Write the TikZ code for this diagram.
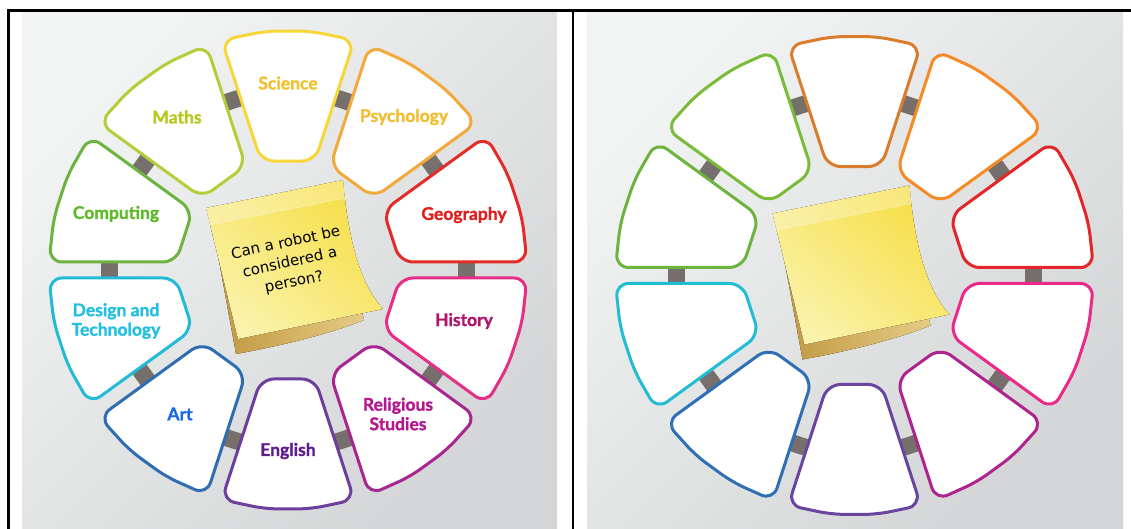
\documentclass[tikz,border=0pt]{standalone}
\usepackage{fontspec}
\setmainfont{Lato}[BoldFeatures={FakeBold=1.2}]
\newfontfamily\notefont{DejaVu Sans}
\usetikzlibrary{calc}
% outline colours, left panel (k = 0 top, clockwise)
\definecolor{La}{HTML}{F5D73A}\definecolor{Lb}{HTML}{F3A93C}\definecolor{Lc}{HTML}{E32B27}
\definecolor{Ld}{HTML}{E52E86}\definecolor{Le}{HTML}{A82690}\definecolor{Lf}{HTML}{6B3F9B}
\definecolor{Lg}{HTML}{2F6DB3}\definecolor{Lh}{HTML}{22BBD5}\definecolor{Li}{HTML}{6BB440}
\definecolor{Lj}{HTML}{B3CE3B}
% outline colours, right panel
\definecolor{Ra}{HTML}{D97C2C}\definecolor{Rb}{HTML}{F58B26}\definecolor{Rc}{HTML}{E4252A}
\definecolor{Rd}{HTML}{EA2A8B}\definecolor{Re}{HTML}{AE238E}\definecolor{Rf}{HTML}{6A45A0}
\definecolor{Rg}{HTML}{2F6FB5}\definecolor{Rh}{HTML}{23BCD5}\definecolor{Ri}{HTML}{6DB43F}
\definecolor{Rj}{HTML}{79BC3A}
% text colours
\definecolor{Tsci}{HTML}{F2C02C}\definecolor{Tpsy}{HTML}{F2BE2E}\definecolor{Tgeo}{HTML}{E01F1D}
\definecolor{This}{HTML}{B3146C}\definecolor{Trel}{HTML}{B5168E}\definecolor{Teng}{HTML}{5E1A8E}
\definecolor{Tart}{HTML}{1A6BE0}\definecolor{Tdt}{HTML}{22BFE0}\definecolor{Tcom}{HTML}{5DBB28}
\definecolor{Tmat}{HTML}{B7C81E}
\definecolor{conncol}{HTML}{766F6B}
\definecolor{bglight}{HTML}{F2F3F3}\definecolor{bgdark}{HTML}{D3D5D6}
\definecolor{notedark}{HTML}{F6DF48}\definecolor{notelight}{HTML}{FAF2AA}
\definecolor{tandark}{HTML}{BF973F}\definecolor{tanlight}{HTML}{E6CB85}

\newcommand\ringseg[3]{%
  \pgfmathsetmacro\pa{#2-18}\pgfmathsetmacro\pb{#2+18}%
  \draw[segbox, draw=#3]
    ($(#1)+(\pa:112)+(\pa+90:8)$) -- ($(#1)+(\pa:239)+(\pa+90:8)$)
    -- ($(#1)+(#2-5.4:240)$) -- ($(#1)+(#2+5.4:240)$)
    -- ($(#1)+(\pb:239)+(\pb-90:8)$) -- ($(#1)+(\pb:112)+(\pb-90:8)$) -- cycle;}

\newcommand\stickynote[1]{%
  \begin{scope}[shift={(#1)}]
    \fill[left color=tandark, right color=tanlight]
      (215,290) -- (236,175) .. controls (280,183) and (330,195) .. (364,209) -- (345,290) -- cycle;
    \fill[top color=notedark, bottom color=notelight, shading angle=-40]
      (206,321) -- (343,349) .. controls (348,290) and (360,245) .. (383,220)
      -- (238,190) -- cycle;
    \fill[white, opacity=0.28] (206,321) -- (343,349) -- (346,331) -- (209,304) -- cycle;
    \draw[white, opacity=0.35, line width=0.6pt] (209,304) -- (346,331);
  \end{scope}}

\tikzset{
  segbox/.style={line width=3pt, fill=white, rounded corners=13pt, line join=round},
  lbl/.style={font=\bfseries\fontsize{17.5}{19.5}\selectfont, align=center, inner sep=0pt},
  notetext/.style={font=\notefont\fontsize{15}{20}\selectfont, align=center, inner sep=0pt},
  tableline/.style={line width=2.5pt, black}
}

\begin{document}
\begin{tikzpicture}[x=1pt, y=1pt]
\useasboundingbox (0,0) rectangle (1131,529);
% panel backgrounds
\fill[top color=bglight, bottom color=bgdark, shading angle=45] (22,0) rectangle (557,518);
\fill[top color=bglight, bottom color=bgdark, shading angle=45] (587,0) rectangle (1123,518);
% table rules
\draw[tableline] (7,518.5) -- (1131,518.5);
\draw[tableline] (8.5,0) -- (8.5,519.5);
\draw[tableline] (573,0) -- (573,519.5);

\coordinate (C1) at (288,259);
\coordinate (C2) at (854.5,253.5);

% connectors
\foreach \cc in {C1,C2}{
  \foreach \a in {0,36,...,324}{
    \begin{scope}[shift={(\cc)}, rotate=\a]
      \fill[conncol] (170,-10) -- (187,-10) -- (187,10) -- (170,10) -- cycle;
    \end{scope}}}

% ring segments
\foreach \k/\c in {0/La,1/Lb,2/Lc,3/Ld,4/Le,5/Lf,6/Lg,7/Lh,8/Li,9/Lj}{
  \ringseg{C1}{90-36*\k}{\c}}
\foreach \k/\c in {0/Ra,1/Rb,2/Rc,3/Rd,4/Re,5/Rf,6/Rg,7/Rh,8/Ri,9/Rj}{
  \ringseg{C2}{90-36*\k}{\c}}

% sticky notes
\stickynote{0,0}
\stickynote{566.5,-5.5}

% labels
\node[lbl, text=Tsci] (sci) at (288,446) {Science};
\node[lbl, text=Tmat] (mat) at (177,412) {Maths};
\node[lbl, text=Tpsy] (psy) at (404,412) {Psychology};
\node[lbl, text=Tcom] (com) at (116,315) {Computing};
\node[lbl, text=Tgeo] (geo) at (464,314) {Geography};
\node[lbl, text=Tdt]  (dt)  at (116,208) {Design and\\Technology};
\node[lbl, text=This] (his) at (464,208) {History};
\node[lbl, text=Tart] (art) at (180,115) {Art};
\node[lbl, text=Trel] (rel) at (398,115) {Religious\\Studies};
\node[lbl, text=Teng] (eng) at (288,78) {English};
\node[notetext, rotate=12] (q) at (290,266) {Can a robot be\\considered a\\person?};
\end{tikzpicture}
\end{document}
